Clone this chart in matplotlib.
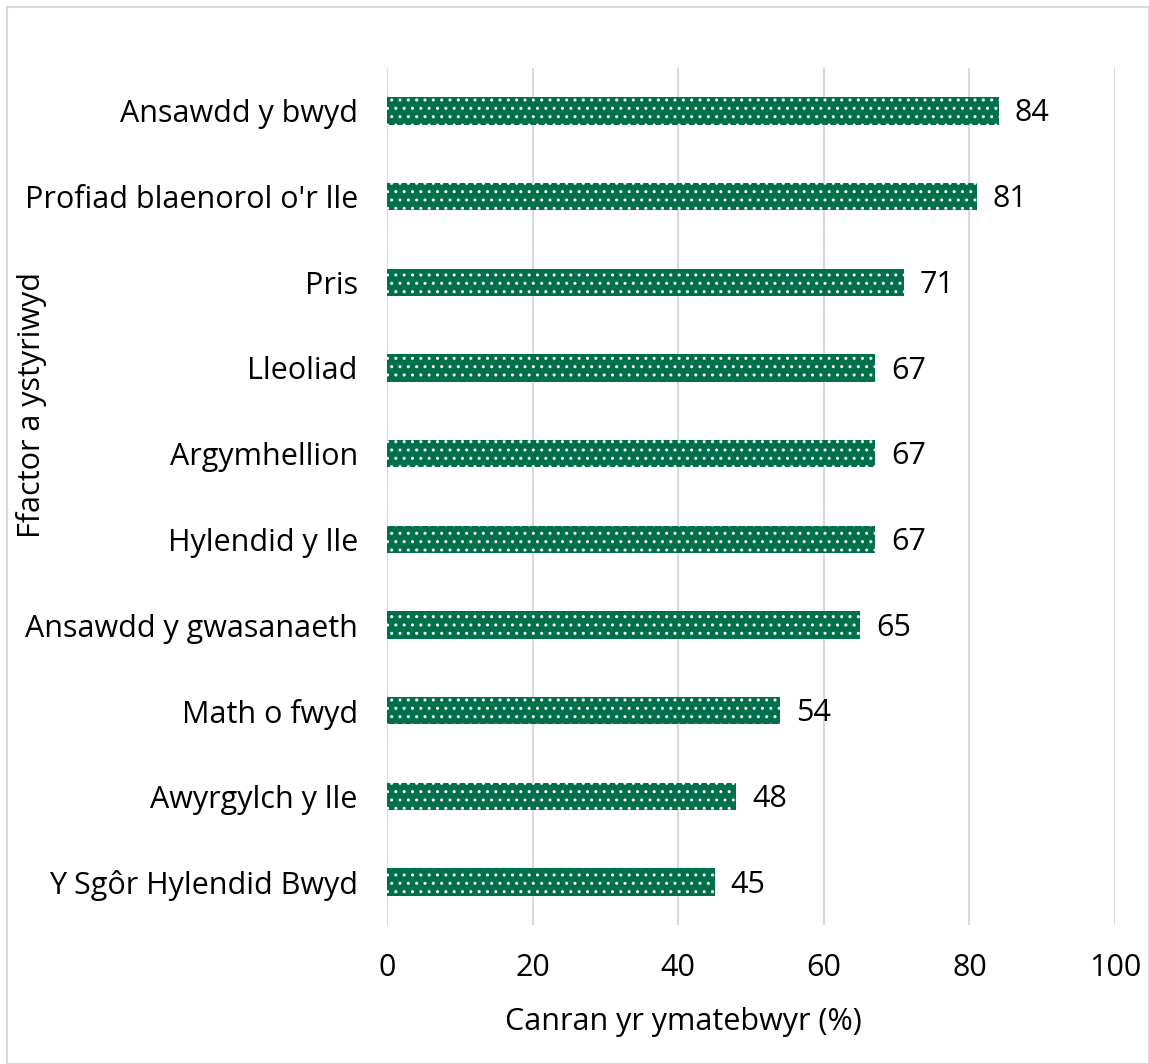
import matplotlib.pyplot as plt
from matplotlib.patches import Rectangle

plt.rcParams['font.family'] = ['Open Sans', 'DejaVu Sans']
plt.rcParams['hatch.linewidth'] = 1.0

factors = ['Ansawdd y bwyd', "Profiad blaenorol o'r lle", 'Pris', 'Lleoliad',
           'Argymhellion', 'Hylendid y lle', 'Ansawdd y gwasanaeth',
           'Math o fwyd', 'Awyrgylch y lle', 'Y Sgôr Hylendid Bwyd']
percent = [84, 81, 71, 67, 67, 67, 65, 54, 48, 45]
x_ticks = [0, 20, 40, 60, 80, 100]

green = '#006f4c'
fs = 22

fig = plt.figure(figsize=(11.49, 10.64), dpi=100)
fig.patches.append(Rectangle((7 / 1149, 0), 1 - 7 / 1149, 1 - 7 / 1064,
                             transform=fig.transFigure, fill=False,
                             edgecolor='#d9d9d9', linewidth=1.5))

ax = fig.add_axes([387 / 1149, 1 - 925 / 1064, (1115 - 387) / 1149, (925 - 68) / 1064])

ypos = list(range(len(factors)))
ax.barh(ypos, percent, height=0.32, color=green, edgecolor='white',
        linewidth=0, hatch='..', zorder=3)
for y, v in zip(ypos, percent):
    ax.text(v + 2.2, y + 0.03, str(v), va='center', ha='left', fontsize=fs, color='black')

ax.set_xlim(0, 100)
ax.set_ylim(len(factors) - 0.5, -0.5)
ax.set_xticks(x_ticks)
ax.set_yticks(ypos)
ax.set_yticklabels(factors)
ax.tick_params(axis='both', length=0, labelsize=fs, colors='black')
ax.tick_params(axis='x', pad=20)
ax.tick_params(axis='y', pad=21)
ax.grid(axis='x', color='#d9d9d9', linewidth=1.5, zorder=0)
for s in ax.spines.values():
    s.set_visible(False)

fig.text(683 / 1149, 1 - 1022 / 1064, 'Canran yr ymatebwyr (%)', ha='center', va='center', fontsize=fs)
fig.text(32 / 1149, 1 - 405 / 1064, 'Ffactor a ystyriwyd', ha='center', va='center',
         rotation=90, fontsize=fs)

fig.savefig('out.png', dpi=100)
